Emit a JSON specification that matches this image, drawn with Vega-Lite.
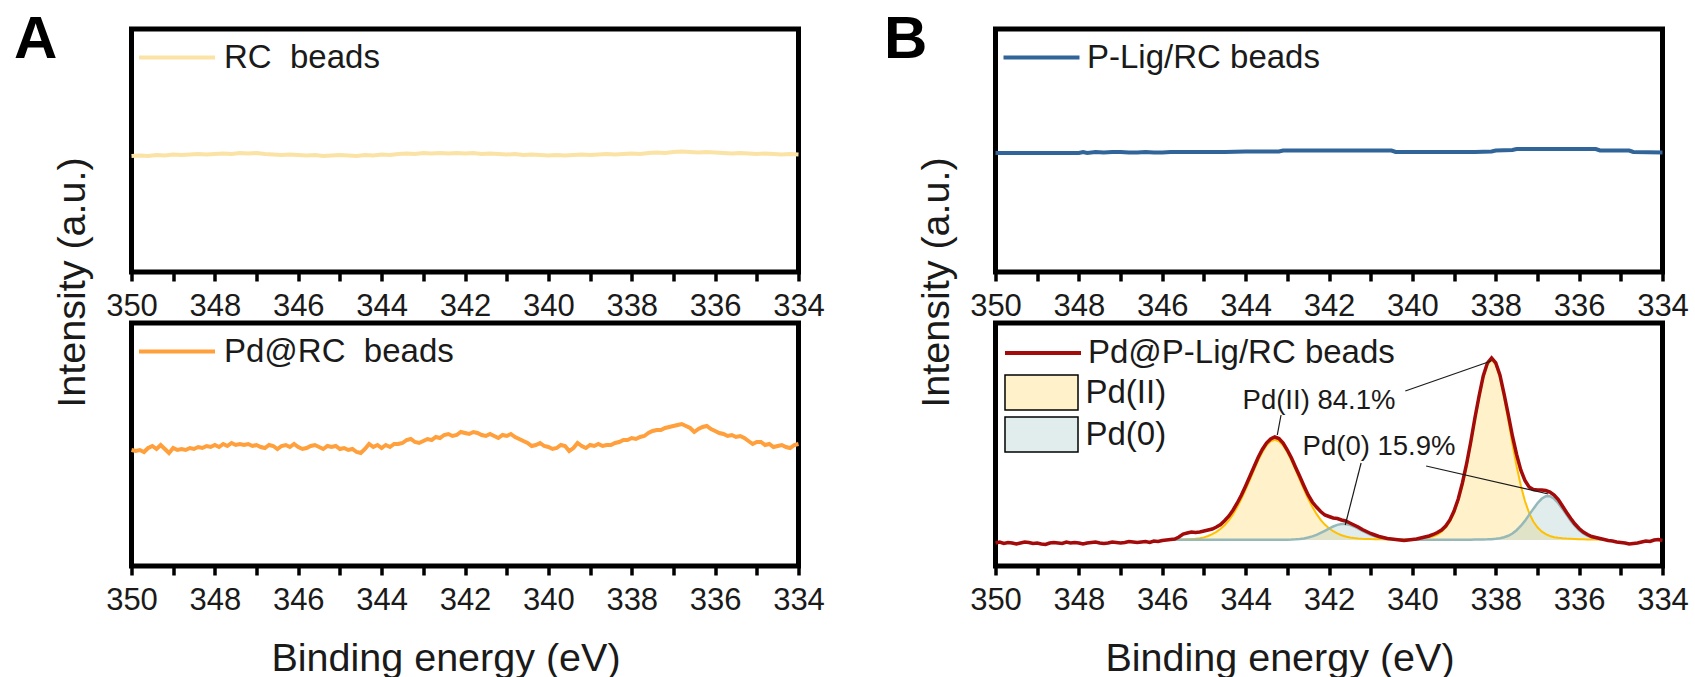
{
"$schema": "https://vega.github.io/schema/vega-lite/v6.json",
"background": "#ffffff",
"padding": {"left": 10.5, "top": 6, "right": 5, "bottom": 5},
"config": {
  "font": "Liberation Sans",
  "view": {"stroke": "#000000", "strokeWidth": 5},
  "axis": {"labelFont": "Liberation Sans", "titleFont": "Liberation Sans", "labelColor": "#1a1a1a", "titleColor": "#1a1a1a", "titleFontWeight": "normal", "grid": false},
  "legend": {"labelFont": "Liberation Sans", "labelColor": "#1a1a1a", "labelFontSize": 33, "padding": 0, "labelLimit": 600},
  "text": {"font": "Liberation Sans"}
},
"datasets": {
"rc": [{"E":350.0,"v":116},{"E":349.8,"v":116.5},{"E":349.6,"v":116},{"E":349.4,"v":117},{"E":349.2,"v":116.5},{"E":349.0,"v":117.5},{"E":348.8,"v":117},{"E":348.6,"v":117.5},{"E":348.4,"v":118},{"E":348.2,"v":117.5},{"E":348.0,"v":118},{"E":347.8,"v":118.5},{"E":347.6,"v":118},{"E":347.4,"v":119},{"E":347.2,"v":118.5},{"E":347.0,"v":119},{"E":346.8,"v":118},{"E":346.6,"v":117.5},{"E":346.4,"v":117},{"E":346.2,"v":117.5},{"E":346.0,"v":117},{"E":345.8,"v":116.5},{"E":345.6,"v":117},{"E":345.4,"v":116},{"E":345.2,"v":116.5},{"E":345.0,"v":117},{"E":344.8,"v":116.5},{"E":344.6,"v":116},{"E":344.4,"v":117},{"E":344.2,"v":116.5},{"E":344.0,"v":117.5},{"E":343.8,"v":117},{"E":343.6,"v":118},{"E":343.4,"v":118.5},{"E":343.2,"v":118},{"E":343.0,"v":119},{"E":342.8,"v":118.5},{"E":342.6,"v":119},{"E":342.4,"v":118.5},{"E":342.2,"v":119},{"E":342.0,"v":118.5},{"E":341.8,"v":119},{"E":341.6,"v":118},{"E":341.4,"v":118.5},{"E":341.2,"v":118},{"E":341.0,"v":117.5},{"E":340.8,"v":118},{"E":340.6,"v":117},{"E":340.4,"v":117.5},{"E":340.2,"v":117},{"E":340.0,"v":116.5},{"E":339.8,"v":117},{"E":339.6,"v":116.5},{"E":339.4,"v":117},{"E":339.2,"v":117.5},{"E":339.0,"v":117},{"E":338.8,"v":117.5},{"E":338.6,"v":118},{"E":338.4,"v":117.5},{"E":338.2,"v":118},{"E":338.0,"v":118.5},{"E":337.8,"v":118},{"E":337.6,"v":119},{"E":337.4,"v":119.5},{"E":337.2,"v":119},{"E":337.0,"v":120},{"E":336.8,"v":120.5},{"E":336.6,"v":120},{"E":336.4,"v":119.5},{"E":336.2,"v":120},{"E":336.0,"v":119.5},{"E":335.8,"v":119},{"E":335.6,"v":118.5},{"E":335.4,"v":119},{"E":335.2,"v":118.5},{"E":335.0,"v":118},{"E":334.8,"v":118.5},{"E":334.6,"v":118},{"E":334.4,"v":117.5},{"E":334.2,"v":118},{"E":334.0,"v":117.5}],
"plig": [{"E":350.0,"v":119},{"E":348.0,"v":119},{"E":347.9,"v":120},{"E":347.8,"v":119},{"E":347.6,"v":120},{"E":347.4,"v":119.5},{"E":347.2,"v":120},{"E":347.0,"v":120},{"E":346.8,"v":119.5},{"E":346.6,"v":119.5},{"E":346.4,"v":120},{"E":346.2,"v":119.5},{"E":346.0,"v":119.5},{"E":345.8,"v":120},{"E":345.5,"v":120},{"E":345.0,"v":120},{"E":344.5,"v":120},{"E":344.0,"v":120.5},{"E":343.2,"v":120.5},{"E":343.1,"v":121.5},{"E":342.0,"v":121.5},{"E":341.0,"v":121.5},{"E":340.5,"v":121.5},{"E":340.4,"v":120},{"E":339.5,"v":120},{"E":338.5,"v":120},{"E":338.1,"v":120.5},{"E":338.0,"v":121.5},{"E":337.6,"v":122},{"E":337.5,"v":123},{"E":336.5,"v":123},{"E":335.6,"v":123},{"E":335.5,"v":121.5},{"E":334.8,"v":121.5},{"E":334.7,"v":120},{"E":334.0,"v":119.5}],
"pdrc": [{"E":350.0,"v":116},{"E":349.9,"v":115},{"E":349.8,"v":116},{"E":349.7,"v":114},{"E":349.6,"v":118},{"E":349.5,"v":120},{"E":349.4,"v":117},{"E":349.3,"v":121},{"E":349.2,"v":117},{"E":349.1,"v":113},{"E":349.0,"v":118},{"E":348.9,"v":116},{"E":348.8,"v":117},{"E":348.7,"v":116},{"E":348.6,"v":118},{"E":348.5,"v":117},{"E":348.4,"v":119},{"E":348.3,"v":118},{"E":348.2,"v":120},{"E":348.1,"v":119},{"E":348.0,"v":121},{"E":347.9,"v":119},{"E":347.8,"v":122},{"E":347.7,"v":120},{"E":347.6,"v":123},{"E":347.5,"v":121},{"E":347.4,"v":122},{"E":347.3,"v":121},{"E":347.2,"v":122},{"E":347.1,"v":120},{"E":347.0,"v":121},{"E":346.9,"v":119},{"E":346.8,"v":118},{"E":346.7,"v":121},{"E":346.6,"v":120},{"E":346.5,"v":117},{"E":346.4,"v":120},{"E":346.3,"v":121},{"E":346.2,"v":119},{"E":346.1,"v":122},{"E":346.0,"v":119},{"E":345.9,"v":117},{"E":345.8,"v":118},{"E":345.7,"v":120},{"E":345.6,"v":121},{"E":345.5,"v":119},{"E":345.4,"v":117},{"E":345.3,"v":120},{"E":345.2,"v":119},{"E":345.1,"v":120},{"E":345.0,"v":117},{"E":344.9,"v":118},{"E":344.8,"v":116},{"E":344.7,"v":117},{"E":344.6,"v":114},{"E":344.5,"v":113},{"E":344.4,"v":117},{"E":344.3,"v":122},{"E":344.2,"v":119},{"E":344.1,"v":121},{"E":344.0,"v":118},{"E":343.9,"v":121},{"E":343.8,"v":119},{"E":343.7,"v":122},{"E":343.6,"v":122},{"E":343.5,"v":123},{"E":343.4,"v":126},{"E":343.3,"v":127},{"E":343.2,"v":124},{"E":343.1,"v":123},{"E":343.0,"v":125},{"E":342.9,"v":127},{"E":342.8,"v":126},{"E":342.7,"v":129},{"E":342.6,"v":128},{"E":342.5,"v":131},{"E":342.4,"v":132},{"E":342.3,"v":130},{"E":342.2,"v":131},{"E":342.1,"v":134},{"E":342.0,"v":133},{"E":341.9,"v":132},{"E":341.8,"v":134},{"E":341.7,"v":133},{"E":341.6,"v":131},{"E":341.5,"v":130},{"E":341.4,"v":132},{"E":341.3,"v":130},{"E":341.2,"v":128},{"E":341.1,"v":131},{"E":341.0,"v":130},{"E":340.9,"v":132},{"E":340.8,"v":129},{"E":340.7,"v":127},{"E":340.6,"v":125},{"E":340.5,"v":123},{"E":340.4,"v":120},{"E":340.3,"v":121},{"E":340.2,"v":123},{"E":340.1,"v":120},{"E":340.0,"v":119},{"E":339.9,"v":117},{"E":339.8,"v":118},{"E":339.7,"v":121},{"E":339.6,"v":120},{"E":339.5,"v":115},{"E":339.4,"v":118},{"E":339.3,"v":123},{"E":339.2,"v":120},{"E":339.1,"v":118},{"E":339.0,"v":121},{"E":338.9,"v":120},{"E":338.8,"v":122},{"E":338.7,"v":120},{"E":338.6,"v":121},{"E":338.5,"v":121},{"E":338.4,"v":123},{"E":338.3,"v":124},{"E":338.2,"v":126},{"E":338.1,"v":126},{"E":338.0,"v":128},{"E":337.9,"v":127},{"E":337.8,"v":129},{"E":337.7,"v":130},{"E":337.6,"v":133},{"E":337.5,"v":135},{"E":337.4,"v":136},{"E":337.3,"v":136},{"E":337.2,"v":138},{"E":337.1,"v":139},{"E":337.0,"v":140},{"E":336.9,"v":141},{"E":336.8,"v":142},{"E":336.7,"v":140},{"E":336.6,"v":138},{"E":336.5,"v":134},{"E":336.4,"v":137},{"E":336.3,"v":139},{"E":336.2,"v":140},{"E":336.1,"v":137},{"E":336.0,"v":135},{"E":335.9,"v":133},{"E":335.8,"v":132},{"E":335.7,"v":130},{"E":335.6,"v":131},{"E":335.5,"v":129},{"E":335.4,"v":130},{"E":335.3,"v":128},{"E":335.2,"v":125},{"E":335.1,"v":122},{"E":335.0,"v":124},{"E":334.9,"v":124},{"E":334.8,"v":121},{"E":334.7,"v":122},{"E":334.6,"v":119},{"E":334.5,"v":120},{"E":334.4,"v":121},{"E":334.3,"v":119},{"E":334.2,"v":118},{"E":334.1,"v":121},{"E":334.0,"v":122}],
"pdp": [{"E":350.0,"v":-3},{"E":349.9,"v":-2},{"E":349.8,"v":-3.5},{"E":349.7,"v":-2.5},{"E":349.6,"v":-3},{"E":349.5,"v":-4},{"E":349.4,"v":-3},{"E":349.3,"v":-2},{"E":349.2,"v":-2.5},{"E":349.1,"v":-3.5},{"E":349.0,"v":-3},{"E":348.9,"v":-4},{"E":348.8,"v":-4.5},{"E":348.7,"v":-3},{"E":348.6,"v":-2.5},{"E":348.5,"v":-3},{"E":348.4,"v":-3.5},{"E":348.3,"v":-2},{"E":348.2,"v":-3},{"E":348.1,"v":-2.5},{"E":348.0,"v":-3},{"E":347.9,"v":-4},{"E":347.8,"v":-3},{"E":347.7,"v":-2.5},{"E":347.6,"v":-2},{"E":347.5,"v":-3},{"E":347.4,"v":-3.5},{"E":347.3,"v":-3},{"E":347.2,"v":-2},{"E":347.1,"v":-2.5},{"E":347.0,"v":-3},{"E":346.9,"v":-2.5},{"E":346.8,"v":-1.5},{"E":346.7,"v":-2},{"E":346.6,"v":-2.5},{"E":346.5,"v":-2},{"E":346.4,"v":-1.5},{"E":346.3,"v":-2.5},{"E":346.2,"v":-1},{"E":346.1,"v":-1.5},{"E":346.0,"v":-0.5},{"E":345.9,"v":0},{"E":345.8,"v":0.5},{"E":345.7,"v":1},{"E":345.6,"v":3},{"E":345.5,"v":6},{"E":345.4,"v":7},{"E":345.3,"v":8},{"E":345.2,"v":7.5},{"E":345.1,"v":8},{"E":345.0,"v":9},{"E":344.9,"v":10},{"E":344.8,"v":11},{"E":344.7,"v":13},{"E":344.6,"v":15.5},{"E":344.5,"v":19.5},{"E":344.4,"v":24},{"E":344.3,"v":30},{"E":344.2,"v":37},{"E":344.1,"v":45},{"E":344.0,"v":54},{"E":343.9,"v":63.5},{"E":343.8,"v":73},{"E":343.7,"v":82.5},{"E":343.6,"v":90.5},{"E":343.5,"v":97},{"E":343.4,"v":101},{"E":343.3,"v":103},{"E":343.2,"v":101.5},{"E":343.1,"v":97},{"E":343.0,"v":90},{"E":342.9,"v":82},{"E":342.8,"v":72.5},{"E":342.7,"v":63.5},{"E":342.6,"v":54},{"E":342.5,"v":45},{"E":342.4,"v":38},{"E":342.3,"v":33},{"E":342.2,"v":28.5},{"E":342.1,"v":25},{"E":342.0,"v":23.5},{"E":341.9,"v":22},{"E":341.8,"v":21.5},{"E":341.7,"v":20},{"E":341.6,"v":19},{"E":341.5,"v":17},{"E":341.4,"v":15},{"E":341.3,"v":13},{"E":341.2,"v":10.5},{"E":341.1,"v":8.5},{"E":341.0,"v":6.5},{"E":340.9,"v":5},{"E":340.8,"v":3.5},{"E":340.7,"v":2.5},{"E":340.6,"v":1.5},{"E":340.5,"v":1},{"E":340.4,"v":0.5},{"E":340.3,"v":0},{"E":340.2,"v":-0.5},{"E":340.1,"v":0},{"E":340.0,"v":0.5},{"E":339.9,"v":1},{"E":339.8,"v":2},{"E":339.7,"v":3},{"E":339.6,"v":4},{"E":339.5,"v":5.5},{"E":339.4,"v":7.5},{"E":339.3,"v":10},{"E":339.2,"v":14},{"E":339.1,"v":20},{"E":339.0,"v":29},{"E":338.9,"v":41},{"E":338.8,"v":57},{"E":338.7,"v":76},{"E":338.6,"v":98},{"E":338.5,"v":122},{"E":338.4,"v":144},{"E":338.3,"v":164},{"E":338.2,"v":177},{"E":338.1,"v":182},{"E":338.0,"v":177},{"E":337.9,"v":165},{"E":337.8,"v":146},{"E":337.7,"v":125.5},{"E":337.6,"v":104},{"E":337.5,"v":85.5},{"E":337.4,"v":70},{"E":337.3,"v":59.5},{"E":337.2,"v":53},{"E":337.1,"v":50.5},{"E":337.0,"v":50},{"E":336.9,"v":50},{"E":336.8,"v":49.5},{"E":336.7,"v":48},{"E":336.6,"v":45},{"E":336.5,"v":40.5},{"E":336.4,"v":34},{"E":336.3,"v":27.5},{"E":336.2,"v":21.5},{"E":336.1,"v":16},{"E":336.0,"v":11.5},{"E":335.9,"v":8},{"E":335.8,"v":5.5},{"E":335.7,"v":3.5},{"E":335.6,"v":2.5},{"E":335.5,"v":1.5},{"E":335.4,"v":0.5},{"E":335.3,"v":-0.5},{"E":335.2,"v":-1},{"E":335.1,"v":-2},{"E":335.0,"v":-2.5},{"E":334.9,"v":-3},{"E":334.8,"v":-4},{"E":334.7,"v":-3.5},{"E":334.6,"v":-3},{"E":334.5,"v":-2},{"E":334.4,"v":-1},{"E":334.3,"v":-1.5},{"E":334.2,"v":0},{"E":334.1,"v":0.5},{"E":334.0,"v":-0.5}],
"comp": [{"E":345.8,"c":"Pd(II)","v":0.3},{"E":345.7,"c":"Pd(II)","v":0.4},{"E":345.6,"c":"Pd(II)","v":0.5},{"E":345.5,"c":"Pd(II)","v":0.6},{"E":345.4,"c":"Pd(II)","v":0.8},{"E":345.3,"c":"Pd(II)","v":1.0},{"E":345.2,"c":"Pd(II)","v":1.3},{"E":345.1,"c":"Pd(II)","v":1.8},{"E":345.0,"c":"Pd(II)","v":2.6},{"E":344.9,"c":"Pd(II)","v":4.0},{"E":344.8,"c":"Pd(II)","v":5.8},{"E":344.7,"c":"Pd(II)","v":8.2},{"E":344.6,"c":"Pd(II)","v":11.2},{"E":344.5,"c":"Pd(II)","v":15.0},{"E":344.4,"c":"Pd(II)","v":19.9},{"E":344.3,"c":"Pd(II)","v":25.9},{"E":344.2,"c":"Pd(II)","v":33.0},{"E":344.1,"c":"Pd(II)","v":41.1},{"E":344.0,"c":"Pd(II)","v":50.3},{"E":343.9,"c":"Pd(II)","v":60.0},{"E":343.8,"c":"Pd(II)","v":69.9},{"E":343.7,"c":"Pd(II)","v":79.4},{"E":343.6,"c":"Pd(II)","v":87.8},{"E":343.5,"c":"Pd(II)","v":94.5},{"E":343.4,"c":"Pd(II)","v":98.8},{"E":343.3,"c":"Pd(II)","v":100.3},{"E":343.2,"c":"Pd(II)","v":98.8},{"E":343.1,"c":"Pd(II)","v":94.5},{"E":343.0,"c":"Pd(II)","v":87.8},{"E":342.9,"c":"Pd(II)","v":79.5},{"E":342.8,"c":"Pd(II)","v":70.0},{"E":342.7,"c":"Pd(II)","v":60.1},{"E":342.6,"c":"Pd(II)","v":50.4},{"E":342.5,"c":"Pd(II)","v":41.3},{"E":342.4,"c":"Pd(II)","v":33.2},{"E":342.3,"c":"Pd(II)","v":26.1},{"E":342.2,"c":"Pd(II)","v":20.1},{"E":342.1,"c":"Pd(II)","v":15.4},{"E":342.0,"c":"Pd(II)","v":11.8},{"E":341.9,"c":"Pd(II)","v":8.9},{"E":341.8,"c":"Pd(II)","v":6.6},{"E":341.7,"c":"Pd(II)","v":4.8},{"E":341.6,"c":"Pd(II)","v":3.5},{"E":341.5,"c":"Pd(II)","v":2.6},{"E":341.4,"c":"Pd(II)","v":2.0},{"E":341.3,"c":"Pd(II)","v":1.6},{"E":341.2,"c":"Pd(II)","v":1.3},{"E":341.1,"c":"Pd(II)","v":1.1},{"E":341.0,"c":"Pd(II)","v":0.9},{"E":340.9,"c":"Pd(II)","v":0.8},{"E":340.8,"c":"Pd(II)","v":0.7},{"E":340.7,"c":"Pd(II)","v":0.7},{"E":340.6,"c":"Pd(II)","v":0.6},{"E":340.5,"c":"Pd(II)","v":0.6},{"E":340.4,"c":"Pd(II)","v":0.6},{"E":340.3,"c":"Pd(II)","v":0.6},{"E":340.2,"c":"Pd(II)","v":0.7},{"E":340.1,"c":"Pd(II)","v":0.8},{"E":340.0,"c":"Pd(II)","v":0.9},{"E":339.9,"c":"Pd(II)","v":1.1},{"E":339.8,"c":"Pd(II)","v":1.4},{"E":339.7,"c":"Pd(II)","v":1.9},{"E":339.6,"c":"Pd(II)","v":2.6},{"E":339.5,"c":"Pd(II)","v":3.6},{"E":339.4,"c":"Pd(II)","v":5.3},{"E":339.3,"c":"Pd(II)","v":8.2},{"E":339.2,"c":"Pd(II)","v":12.4},{"E":339.1,"c":"Pd(II)","v":18.4},{"E":339.0,"c":"Pd(II)","v":27.0},{"E":338.9,"c":"Pd(II)","v":39.1},{"E":338.8,"c":"Pd(II)","v":54.8},{"E":338.7,"c":"Pd(II)","v":73.9},{"E":338.6,"c":"Pd(II)","v":96.1},{"E":338.5,"c":"Pd(II)","v":119.9},{"E":338.4,"c":"Pd(II)","v":142.3},{"E":338.3,"c":"Pd(II)","v":162.3},{"E":338.2,"c":"Pd(II)","v":175.3},{"E":338.1,"c":"Pd(II)","v":180.3},{"E":338.0,"c":"Pd(II)","v":175.3},{"E":337.9,"c":"Pd(II)","v":162.3},{"E":337.8,"c":"Pd(II)","v":142.3},{"E":337.7,"c":"Pd(II)","v":119.8},{"E":337.6,"c":"Pd(II)","v":96.0},{"E":337.5,"c":"Pd(II)","v":73.8},{"E":337.4,"c":"Pd(II)","v":54.7},{"E":337.3,"c":"Pd(II)","v":39.0},{"E":337.2,"c":"Pd(II)","v":27.1},{"E":337.1,"c":"Pd(II)","v":18.5},{"E":337.0,"c":"Pd(II)","v":12.7},{"E":336.9,"c":"Pd(II)","v":8.6},{"E":336.8,"c":"Pd(II)","v":5.8},{"E":336.7,"c":"Pd(II)","v":4.0},{"E":336.6,"c":"Pd(II)","v":2.8},{"E":336.5,"c":"Pd(II)","v":2.2},{"E":336.4,"c":"Pd(II)","v":1.7},{"E":336.3,"c":"Pd(II)","v":1.4},{"E":336.2,"c":"Pd(II)","v":1.2},{"E":336.1,"c":"Pd(II)","v":1.0},{"E":336.0,"c":"Pd(II)","v":0.8},{"E":335.9,"c":"Pd(II)","v":0.7},{"E":335.8,"c":"Pd(II)","v":0.6},{"E":335.7,"c":"Pd(II)","v":0.5},{"E":335.6,"c":"Pd(II)","v":0.4},{"E":335.5,"c":"Pd(II)","v":0.3},{"E":335.4,"c":"Pd(II)","v":0.2},
{"E":345.8,"c":"Pd(0)","v":0.2},{"E":345.0,"c":"Pd(0)","v":0.2},{"E":344.0,"c":"Pd(0)","v":0.2},{"E":343.5,"c":"Pd(0)","v":0.2},{"E":343.4,"c":"Pd(0)","v":0.2},{"E":343.3,"c":"Pd(0)","v":0.2},{"E":343.2,"c":"Pd(0)","v":0.25},{"E":343.1,"c":"Pd(0)","v":0.3},{"E":343.0,"c":"Pd(0)","v":0.35},{"E":342.9,"c":"Pd(0)","v":0.5},{"E":342.8,"c":"Pd(0)","v":0.75},{"E":342.7,"c":"Pd(0)","v":1.1},{"E":342.6,"c":"Pd(0)","v":1.6},{"E":342.5,"c":"Pd(0)","v":2.5},{"E":342.4,"c":"Pd(0)","v":3.6},{"E":342.3,"c":"Pd(0)","v":5.2},{"E":342.2,"c":"Pd(0)","v":7.1},{"E":342.1,"c":"Pd(0)","v":9.2},{"E":342.0,"c":"Pd(0)","v":11.4},{"E":341.9,"c":"Pd(0)","v":13.5},{"E":341.8,"c":"Pd(0)","v":15.1},{"E":341.7,"c":"Pd(0)","v":16.0},{"E":341.6,"c":"Pd(0)","v":16.0},{"E":341.5,"c":"Pd(0)","v":15.1},{"E":341.4,"c":"Pd(0)","v":13.5},{"E":341.3,"c":"Pd(0)","v":11.4},{"E":341.2,"c":"Pd(0)","v":9.2},{"E":341.1,"c":"Pd(0)","v":7.15},{"E":341.0,"c":"Pd(0)","v":5.25},{"E":340.9,"c":"Pd(0)","v":3.65},{"E":340.8,"c":"Pd(0)","v":2.6},{"E":340.7,"c":"Pd(0)","v":1.7},{"E":340.6,"c":"Pd(0)","v":1.25},{"E":340.5,"c":"Pd(0)","v":0.9},{"E":340.4,"c":"Pd(0)","v":0.7},{"E":340.3,"c":"Pd(0)","v":0.6},{"E":340.2,"c":"Pd(0)","v":0.35},{"E":340.0,"c":"Pd(0)","v":0.3},{"E":339.5,"c":"Pd(0)","v":0.3},{"E":339.0,"c":"Pd(0)","v":0.35},{"E":338.8,"c":"Pd(0)","v":0.3},{"E":338.6,"c":"Pd(0)","v":0.35},{"E":338.5,"c":"Pd(0)","v":0.45},{"E":338.4,"c":"Pd(0)","v":0.5},{"E":338.3,"c":"Pd(0)","v":0.55},{"E":338.2,"c":"Pd(0)","v":0.65},{"E":338.1,"c":"Pd(0)","v":0.85},{"E":338.0,"c":"Pd(0)","v":1.15},{"E":337.9,"c":"Pd(0)","v":1.85},{"E":337.8,"c":"Pd(0)","v":2.75},{"E":337.7,"c":"Pd(0)","v":4.2},{"E":337.6,"c":"Pd(0)","v":6.5},{"E":337.5,"c":"Pd(0)","v":9.8},{"E":337.4,"c":"Pd(0)","v":14.0},{"E":337.3,"c":"Pd(0)","v":19.1},{"E":337.2,"c":"Pd(0)","v":25.1},{"E":337.1,"c":"Pd(0)","v":31.1},{"E":337.0,"c":"Pd(0)","v":36.8},{"E":336.9,"c":"Pd(0)","v":41.2},{"E":336.8,"c":"Pd(0)","v":43.7},{"E":336.7,"c":"Pd(0)","v":43.7},{"E":336.6,"c":"Pd(0)","v":41.2},{"E":336.5,"c":"Pd(0)","v":36.8},{"E":336.4,"c":"Pd(0)","v":31.1},{"E":336.3,"c":"Pd(0)","v":25.1},{"E":336.2,"c":"Pd(0)","v":19.1},{"E":336.1,"c":"Pd(0)","v":14.0},{"E":336.0,"c":"Pd(0)","v":9.8},{"E":335.9,"c":"Pd(0)","v":6.5},{"E":335.8,"c":"Pd(0)","v":4.2},{"E":335.7,"c":"Pd(0)","v":2.7},{"E":335.6,"c":"Pd(0)","v":1.8},{"E":335.5,"c":"Pd(0)","v":1.1},{"E":335.4,"c":"Pd(0)","v":0.8}],
"ann": [{"E":342.24,"v":139,"t":"Pd(II) 84.1%"},{"E":340.8,"v":93,"t":"Pd(0) 15.9%"}],
"lead": [{"E":343.15,"v":125,"E2":343.24,"v2":105},{"E":340.17,"v":149,"E2":338.11,"v2":179},{"E":341.23,"v":77,"E2":341.61,"v2":15},{"E":339.67,"v":74,"E2":336.74,"v2":46}]
},
"columns": 2,
"spacing": {"row": 51, "column": 197},
"bounds": "flush",
"resolve": {"scale": {"color": "independent", "fill": "independent", "x": "independent", "y": "independent"}, "legend": {"color": "independent", "fill": "independent"}},
"concat": [
   {
    "width": 667, "height": 243,
    "data": {"name": "rc"},
    "mark": {"type": "line", "strokeWidth": 4},
    "encoding": {
     "x": {"field": "E", "type": "quantitative", "scale": {"domain": [334, 350], "reverse": true, "nice": false, "zero": false},
       "axis": {"title": "A", "titleX": -118, "titleY": -215, "titleAlign": "left", "titleBaseline": "alphabetic", "titleAngle": 0, "titleFontSize": 60, "titleFontWeight": "bold", "titleColor": "#000000", "values": [334,335,336,337,338,339,340,341,342,343,344,345,346,347,348,349,350], "labelExpr": "datum.value % 2 === 0 ? datum.label : ''", "labelFontSize": 31, "labelPadding": 10, "labelOverlap": false, "labelFlush": false, "domain": false, "tickSize": 9, "tickWidth": 3.5, "tickColor": "#000000", "encode": {"ticks": {"update": {"y2": {"signal": "datum.value % 2 === 0 ? 9 : 5.5"}}}}}},
     "y": {"field": "v", "type": "quantitative", "scale": {"domain": [0, 243], "nice": false, "zero": false},
       "axis": {"title": "Intensity (a.u.)", "labels": false, "ticks": false, "domain": false, "titleFontSize": 39.5, "titlePadding": 47, "titleY": 253, "titleBaseline": "alphabetic"}},
     "color": {"datum": "RC\u00a0 beads", "type": "nominal", "scale": {"range": ["#FBE3A5"]},
       "legend": {"orient": "none", "legendX": 5.5, "legendY": -11.5, "title": null, "symbolType": "stroke", "symbolSize": 5776, "symbolStrokeWidth": 4, "labelOffset": 7}}
    }
   },
   {
    "width": 667, "height": 243,
    "data": {"name": "plig"},
    "mark": {"type": "line", "strokeWidth": 4},
    "encoding": {
     "x": {"field": "E", "type": "quantitative", "scale": {"domain": [334, 350], "reverse": true, "nice": false, "zero": false},
       "axis": {"title": "B", "titleX": -112, "titleY": -215, "titleAlign": "left", "titleBaseline": "alphabetic", "titleAngle": 0, "titleFontSize": 60, "titleFontWeight": "bold", "titleColor": "#000000", "values": [334,335,336,337,338,339,340,341,342,343,344,345,346,347,348,349,350], "labelExpr": "datum.value % 2 === 0 ? datum.label : ''", "labelFontSize": 31, "labelPadding": 10, "labelOverlap": false, "labelFlush": false, "domain": false, "tickSize": 9, "tickWidth": 3.5, "tickColor": "#000000", "encode": {"ticks": {"update": {"y2": {"signal": "datum.value % 2 === 0 ? 9 : 5.5"}}}}}},
     "y": {"field": "v", "type": "quantitative", "scale": {"domain": [0, 243], "nice": false, "zero": false},
       "axis": {"title": "Intensity (a.u.)", "labels": false, "ticks": false, "domain": false, "titleFontSize": 39.5, "titlePadding": 47, "titleY": 253, "titleBaseline": "alphabetic"}},
     "color": {"datum": "P-Lig/RC beads", "type": "nominal", "scale": {"range": ["#31659A"]},
       "legend": {"orient": "none", "legendX": 6, "legendY": -11.5, "title": null, "symbolType": "stroke", "symbolSize": 5776, "symbolStrokeWidth": 4, "labelOffset": 5.5}}
    }
   },
   {
    "width": 667, "height": 243,
    "data": {"name": "pdrc"},
    "mark": {"type": "line", "strokeWidth": 4},
    "encoding": {
     "x": {"field": "E", "type": "quantitative", "scale": {"domain": [334, 350], "reverse": true, "nice": false, "zero": false},
       "axis": {"title": "Binding energy (eV)", "titleFontSize": 39.5, "titlePadding": 24, "titleX": 314, "values": [334,335,336,337,338,339,340,341,342,343,344,345,346,347,348,349,350], "labelExpr": "datum.value % 2 === 0 ? datum.label : ''", "labelFontSize": 31, "labelPadding": 10, "labelOverlap": false, "labelFlush": false, "domain": false, "tickSize": 9, "tickWidth": 3.5, "tickColor": "#000000", "encode": {"ticks": {"update": {"y2": {"signal": "datum.value % 2 === 0 ? 9 : 5.5"}}}}}},
     "y": {"field": "v", "type": "quantitative", "scale": {"domain": [0, 243], "nice": false, "zero": false}, "axis": null},
     "color": {"datum": "Pd@RC\u00a0 beads", "type": "nominal", "scale": {"range": ["#FFA03C"]},
       "legend": {"orient": "none", "legendX": 5.5, "legendY": -11.5, "title": null, "symbolType": "stroke", "symbolSize": 5776, "symbolStrokeWidth": 4, "labelOffset": 7}}
    }
   },
   {
    "width": 667, "height": 243,
    "encoding": {
     "x": {"field": "E", "type": "quantitative", "scale": {"domain": [334, 350], "reverse": true, "nice": false, "zero": false},
       "axis": {"title": "Binding energy (eV)", "titleFontSize": 39.5, "titlePadding": 24, "titleX": 284, "values": [334,335,336,337,338,339,340,341,342,343,344,345,346,347,348,349,350], "labelExpr": "datum.value % 2 === 0 ? datum.label : ''", "labelFontSize": 31, "labelPadding": 10, "labelOverlap": false, "labelFlush": false, "domain": false, "tickSize": 9, "tickWidth": 3.5, "tickColor": "#000000", "encode": {"ticks": {"update": {"y2": {"signal": "datum.value % 2 === 0 ? 9 : 5.5"}}}}}},
     "y": {"field": "v", "type": "quantitative", "stack": null, "scale": {"domain": [-26, 217], "nice": false, "zero": false}, "axis": null}
    },
    "layer": [
     {
      "data": {"name": "comp"},
      "mark": {"type": "area", "fillOpacity": 0.35},
      "encoding": {
       "y2": {"datum": 0},
       "fill": {"field": "c", "type": "nominal", "scale": {"domain": ["Pd(II)", "Pd(0)"], "range": ["#FFD966", "#A8C9C9"]},
         "legend": {"orient": "none", "legendX": 27.5, "legendY": 51, "title": null, "symbolType": "M-2.086,-1H2.086V1H-2.086Z", "symbolSize": 1225, "symbolStrokeColor": "#000000", "symbolStrokeWidth": 1.5, "labelOffset": 25.5, "rowPadding": 1,
           "encode": {"symbols": {"update": {"fillOpacity": {"value": 0.35}, "stroke": {"value": "#000000"}, "strokeWidth": {"value": 1.5}}}}}}
      }
     },
     {
      "data": {"name": "comp"},
      "transform": [{"filter": "datum.c === 'Pd(II)'"}],
      "mark": {"type": "line", "color": "#FFC000", "strokeWidth": 2},
      "encoding": {}
     },
     {
      "data": {"name": "comp"},
      "transform": [{"filter": "datum.c === 'Pd(0)'"}],
      "mark": {"type": "line", "color": "#95B8B8", "strokeWidth": 2.5},
      "encoding": {}
     },
     {
      "data": {"name": "pdp"},
      "mark": {"type": "line", "strokeWidth": 3.5},
      "encoding": {
       "color": {"datum": "Pd@P-Lig/RC beads", "type": "nominal", "scale": {"range": ["#A30B0B"]},
         "legend": {"orient": "none", "legendX": 7.5, "legendY": -10, "title": null, "symbolType": "stroke", "symbolSize": 5776, "symbolStrokeWidth": 4, "labelOffset": 5}}
      }
     },
     {
      "data": {"name": "lead"},
      "mark": {"type": "rule", "color": "#1a1a1a", "strokeWidth": 1.2},
      "encoding": {"x2": {"field": "E2"}, "y2": {"field": "v2"}}
     },
     {
      "data": {"name": "ann"},
      "mark": {"type": "text", "fontSize": 27.5, "color": "#1a1a1a", "align": "center", "baseline": "middle"},
      "encoding": {"text": {"field": "t", "type": "nominal"}}
     }
    ]
   }
]
}
